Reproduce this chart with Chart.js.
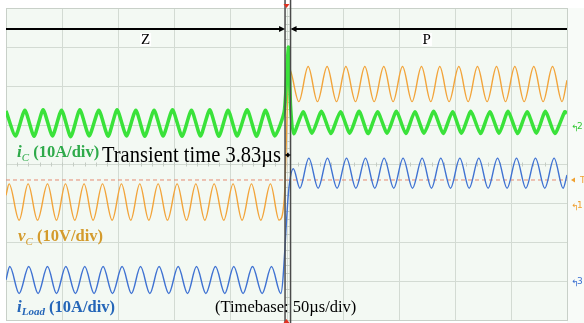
<!DOCTYPE html>
<html>
<head>
<meta charset="utf-8">
<script src="https://cdn.jsdelivr.net/npm/chart.js@4/dist/chart.umd.min.js"></script>
<style>
  html, body { margin: 0; padding: 0; background: #ffffff; }
  #wrap { width: 584px; height: 323px; }
</style>
</head>
<body>
<div id="wrap"><canvas id="scopeChart" width="584" height="323"></canvas></div>
<script>
// time in µs (50 µs/div), values in scope divisions

// iC (green)
const icTime = [
  -250, -241.5, -233.2, -225.0, -216.9, -208.6, -200.5, -192.3, -184.2, -175.9,
  -167.3, -159.0, -151.0, -142.6, -134.3, -126.3, -118.0, -110.0, -101.6, -93.1,
  -84.7, -76.7, -68.4, -60.3, -52.1, -44.0, -35.1, -26.7, -18.7, -10.4,
  -2.0, 1.6, 3.6,
  6.5, 14.8, 22.8, 31.2, 39.5, 48.1, 56.4, 64.7, 72.7, 81.1,
  89.7, 98.0, 106.3, 114.4, 122.6, 131.3, 139.6, 148.0, 156.0, 164.3,
  172.9, 181.2, 189.5, 197.5, 205.9, 214.4, 222.8, 230.8, 239.1, 248.0,
  250
];
const icValue = [
  1.36, 0.72, 1.38, 0.71, 1.39, 0.72, 1.38, 0.70, 1.39, 0.72,
  1.38, 0.71, 1.39, 0.72, 1.38, 0.71, 1.38, 0.72, 1.39, 0.71,
  1.38, 0.72, 1.39, 0.71, 1.38, 0.72, 1.39, 0.71, 1.38, 0.72,
  1.35, 3.0, 1.5,
  0.78, 1.34, 0.79, 1.35, 0.78, 1.34, 0.79, 1.35, 0.78, 1.34,
  0.79, 1.35, 0.78, 1.34, 0.79, 1.35, 0.78, 1.34, 0.79, 1.35,
  0.78, 1.34, 0.79, 1.35, 0.78, 1.34, 0.79, 1.35, 0.78, 1.34,
  1.30
];

// vC (orange)
const vcTime = [
  -250, -247.2, -238.3, -230.3, -221.9, -213.0, -205.0, -197.0, -188.7, -180.4, -172.4,
  -164.0, -155.4, -147.1, -138.8, -130.8, -122.7, -114.4, -106.1, -97.5, -89.1,
  -80.8, -72.8, -64.5, -55.9, -47.6, -39.6, -31.2, -22.9, -14.3, -6.6,
  -2.0, 2.4,
  11.0, 19.3, 27.6, 36.2, 44.6, 52.9, 61.5, 69.8, 78.1, 86.7,
  95.0, 103.4, 111.9, 120.3, 128.6, 136.6, 144.9, 153.6, 161.9, 170.2,
  178.8, 187.2, 195.2, 203.5, 211.8, 220.4, 228.7, 237.1, 245.6,
  250
];
const vcValue = [
  -0.80, -0.51, -1.44, -0.51, -1.44, -0.51, -1.44, -0.51, -1.44, -0.51, -1.44,
  -0.51, -1.44, -0.51, -1.44, -0.51, -1.44, -0.51, -1.44, -0.51, -1.44,
  -0.51, -1.44, -0.51, -1.44, -0.51, -1.44, -0.51, -1.44, -0.51, -1.44,
  -0.90, 2.45,
  1.60, 2.50, 1.60, 2.50, 1.60, 2.50, 1.60, 2.50, 1.60, 2.50,
  1.60, 2.50, 1.60, 2.50, 1.60, 2.50, 1.60, 2.50, 1.60, 2.50,
  1.60, 2.50, 1.60, 2.50, 1.60, 2.50, 1.60, 2.50, 1.60,
  2.15
];

// iLoad (blue)
const iloadTime = [
  -250, -246.6, -238.3, -229.7, -221.4, -213.0, -205.0, -196.7, -188.1, -179.8, -171.5,
  -163.5, -155.1, -146.5, -138.2, -130.1, -121.8, -113.6, -104.9, -96.6, -88.2,
  -80.2, -71.9, -63.3, -55.0, -47.0, -38.7, -30.3, -21.7, -13.4, -5.1,
  2.2, 6.1,
  11.9, 19.9, 28.2, 36.5, 45.1, 53.5, 61.8, 70.4, 78.7, 87.0,
  95.6, 103.9, 112.3, 120.9, 129.2, 137.5, 146.2, 154.5, 162.8, 171.4,
  179.7, 188.1, 196.6, 205.0, 213.3, 221.9, 230.2, 238.5, 246.5,
  250
];
const iloadValue = [
  -2.97, -2.63, -3.32, -2.63, -3.32, -2.63, -3.32, -2.63, -3.32, -2.63, -3.32,
  -2.63, -3.32, -2.63, -3.32, -2.63, -3.32, -2.63, -3.32, -2.63, -3.32,
  -2.63, -3.32, -2.63, -3.32, -2.63, -3.32, -2.63, -3.32, -2.63, -3.32,
  -0.60, -0.12,
  -0.62, 0.15, -0.62, 0.15, -0.62, 0.15, -0.62, 0.15, -0.62, 0.15,
  -0.62, 0.15, -0.62, 0.15, -0.62, 0.15, -0.62, 0.15, -0.62, 0.15,
  -0.62, 0.15, -0.62, 0.15, -0.62, 0.15, -0.62, 0.15, -0.62,
  -0.28
];

const triggerLevel = -0.41;
const cursorTime = [-1.3, 3.6];
const regionLabels = ["Z", "P"];
const xRange = [-250, 250];
const yRange = [-4, 4];

const toPoints = (ts, vs) => ts.map((t, i) => ({ x: t, y: vs[i] }));

const serif = "'Liberation Serif', 'DejaVu Serif', serif";

function drawParts(ctx, x, y, parts, color) {
  ctx.fillStyle = color;
  ctx.textBaseline = "alphabetic";
  ctx.textAlign = "left";
  parts.forEach(p => {
    ctx.font = p.font;
    ctx.fillText(p.text, x, y + (p.dy || 0));
    x += ctx.measureText(p.text).width;
  });
}

function arrowHead(ctx, x, y, dir, len, half) {
  ctx.beginPath();
  ctx.moveTo(x, y);
  ctx.lineTo(x - dir * len, y - half);
  ctx.lineTo(x - dir * len, y + half);
  ctx.closePath();
  ctx.fill();
}

const scopePlugin = {
  id: "scope",
  beforeDraw(chart) {
    const { ctx, chartArea: a, scales: { x, y } } = chart;
    ctx.save();
    ctx.fillStyle = "#ffffff";
    ctx.fillRect(0, 0, chart.width, chart.height);
    ctx.fillStyle = "#f8fbf8";
    ctx.fillRect(a.right, a.top, chart.width - a.right, chart.height - a.top);
    ctx.fillStyle = "#f3f9f3";
    ctx.fillRect(a.left, a.top, a.right - a.left, a.bottom - a.top);

    // grid
    ctx.strokeStyle = "#d3dbd3";
    ctx.lineWidth = 1;
    for (let v = xRange[0]; v <= xRange[1]; v += 50) {
      const px = Math.round(x.getPixelForValue(v)) + 0.5;
      ctx.beginPath(); ctx.moveTo(px, a.top); ctx.lineTo(px, a.bottom); ctx.stroke();
    }
    for (let v = yRange[0]; v <= yRange[1]; v += 1) {
      const py = Math.round(y.getPixelForValue(v)) + 0.5;
      ctx.beginPath(); ctx.moveTo(a.left, py); ctx.lineTo(a.right, py); ctx.stroke();
    }
    ctx.strokeStyle = "#c8d0c8";
    ctx.strokeRect(Math.round(a.left) + 0.5, Math.round(a.top) + 0.5,
      Math.round(a.right - a.left), Math.round(a.bottom - a.top));

    // minor ticks on centre lines
    const cx = Math.round(x.getPixelForValue(0)) + 0.5;
    const cy = Math.round(y.getPixelForValue(0)) + 0.5;
    ctx.strokeStyle = "#c4ccc4";
    for (let v = xRange[0]; v <= xRange[1]; v += 10) {
      const px = Math.round(x.getPixelForValue(v)) + 0.5;
      ctx.beginPath(); ctx.moveTo(px, cy - 2); ctx.lineTo(px, cy + 2); ctx.stroke();
    }
    for (let v = yRange[0]; v <= yRange[1]; v += 0.2) {
      const py = Math.round(y.getPixelForValue(v)) + 0.5;
      ctx.beginPath(); ctx.moveTo(cx - 2, py); ctx.lineTo(cx + 2, py); ctx.stroke();
    }
    ctx.restore();
  },
  afterDatasetsDraw(chart) {
    const { ctx, chartArea: a, scales: { x, y } } = chart;
    ctx.save();

    // cursors
    const c0 = x.getPixelForValue(cursorTime[0]);
    const c1 = x.getPixelForValue(cursorTime[1]);
    ctx.strokeStyle = "#4a4a4a";
    ctx.lineWidth = 1.5;
    [c0, c1].forEach(px => {
      ctx.beginPath(); ctx.moveTo(px, 0); ctx.lineTo(px, chart.height); ctx.stroke();
    });

    // red markers at top and bottom
    const mid = x.getPixelForValue(0);
    ctx.fillStyle = "#e03020";
    ctx.beginPath(); ctx.moveTo(mid - 3, 4); ctx.lineTo(mid + 3, 4); ctx.lineTo(mid, 8); ctx.closePath(); ctx.fill();
    ctx.beginPath(); ctx.moveTo(mid - 3, chart.height); ctx.lineTo(mid + 3, chart.height); ctx.lineTo(mid, chart.height - 4); ctx.closePath(); ctx.fill();

    // Z / P region arrows
    const ay = y.getPixelForValue(3.46);
    ctx.strokeStyle = "#000";
    ctx.fillStyle = "#000";
    ctx.lineWidth = 2;
    ctx.beginPath(); ctx.moveTo(a.left, ay); ctx.lineTo(c0 - 2, ay); ctx.stroke();
    ctx.beginPath(); ctx.moveTo(c1 + 2, ay); ctx.lineTo(a.right, ay); ctx.stroke();
    arrowHead(ctx, c0, ay, 1, 6, 3);
    arrowHead(ctx, c1, ay, -1, 6, 3);

    ctx.font = "15px " + serif;
    ctx.textAlign = "center";
    ctx.textBaseline = "alphabetic";
    const zx = (a.left + c0) / 2;
    const px2 = x.getPixelForValue(125);
    [[zx, regionLabels[0]], [px2, regionLabels[1]]].forEach(([tx, t]) => {
      const w = ctx.measureText(t).width;
      ctx.fillStyle = "#ffffff";
      ctx.fillRect(tx - w / 2 - 1, ay + 4, w + 2, 13);
      ctx.fillStyle = "#000";
      ctx.fillText(t, tx, ay + 15);
    });

    // transient time marker
    const ty = 155;
    ctx.lineWidth = 1;
    ctx.beginPath(); ctx.moveTo(c0, ty); ctx.lineTo(c1, ty); ctx.stroke();
    arrowHead(ctx, c0 + 0.5, ty, -1, 3, 2.5);
    arrowHead(ctx, c1 - 0.5, ty, 1, 3, 2.5);

    ctx.save();
    ctx.translate(c0 - 4, 162);
    ctx.scale(1, 1.15);
    ctx.font = "20.5px " + serif;
    ctx.textAlign = "right";
    ctx.fillStyle = "#000";
    ctx.fillText("Transient time 3.83\u00b5s", 0, 0);
    ctx.restore();

    ctx.textAlign = "left";
    ctx.fillStyle = "#000";
    ctx.font = "16.5px " + serif;
    ctx.fillText("(Timebase: 50\u00b5s/div)", 215, 312);

    // channel labels
    drawParts(ctx, 17, 157, [
      { text: "i", font: "italic bold 17px " + serif },
      { text: "C", font: "italic 11px " + serif, dy: 4 },
      { text: " (10A/div)", font: "bold 16.5px " + serif }
    ], "#2eaa4a");
    drawParts(ctx, 18, 241, [
      { text: "v", font: "italic bold 17px " + serif },
      { text: "C", font: "italic 11px " + serif, dy: 4 },
      { text: " (10V/div)", font: "bold 16.5px " + serif }
    ], "#d49b2c");
    drawParts(ctx, 17, 312, [
      { text: "i", font: "italic bold 17px " + serif },
      { text: "Load", font: "italic bold 11px " + serif, dy: 3 },
      { text: " (10A/div)", font: "bold 16.5px " + serif }
    ], "#2566b8");

    // channel markers on the right
    const mx = a.right + 4;
    const marks = [[0.92, "2", "#35c835"], [-1.1, "1", "#f0a030"], [-3.05, "3", "#3a6fd0"]];
    ctx.font = "9px 'DejaVu Sans', sans-serif";
    marks.forEach(([v, t, col]) => {
      const py = y.getPixelForValue(v);
      ctx.fillStyle = col;
      ctx.fillText("\u21b0", mx, py + 3);
      ctx.fillText(t, mx + 6, py + 1);
    });
    const tyy = y.getPixelForValue(triggerLevel);
    ctx.fillStyle = "#f0a030";
    arrowHead(ctx, mx, tyy, -1, 4, 2.5);
    ctx.fillText("T", mx + 9, tyy + 3);

    ctx.restore();
  }
};

new Chart(document.getElementById("scopeChart"), {
  type: "line",
  data: {
    datasets: [
      {
        label: "trigger",
        data: toPoints(xRange, [triggerLevel, triggerLevel]),
        borderColor: "#e58b72",
        borderWidth: 1,
        borderDash: [4, 3],
        pointRadius: 0,
        order: 4
      },
      {
        label: "iC",
        data: toPoints(icTime, icValue),
        borderColor: "#3ae23a",
        borderWidth: 3.5,
        pointRadius: 0,
        tension: 0.2,
        order: 1
      },
      {
        label: "vC",
        data: toPoints(vcTime, vcValue),
        borderColor: "#f2a43a",
        borderWidth: 1.4,
        pointRadius: 0,
        cubicInterpolationMode: "monotone",
        order: 2
      },
      {
        label: "iLoad",
        data: toPoints(iloadTime, iloadValue),
        borderColor: "#3f72d2",
        borderWidth: 1.4,
        pointRadius: 0,
        cubicInterpolationMode: "monotone",
        order: 3
      }
    ]
  },
  options: {
    responsive: false,
    animation: false,
    layout: { padding: { left: 6, right: 17, top: 8, bottom: 3 } },
    plugins: {
      legend: { display: false },
      tooltip: { enabled: false }
    },
    scales: {
      x: { type: "linear", display: false, min: xRange[0], max: xRange[1] },
      y: { type: "linear", display: false, min: yRange[0], max: yRange[1] }
    }
  },
  plugins: [scopePlugin]
});
</script>
</body>
</html>
